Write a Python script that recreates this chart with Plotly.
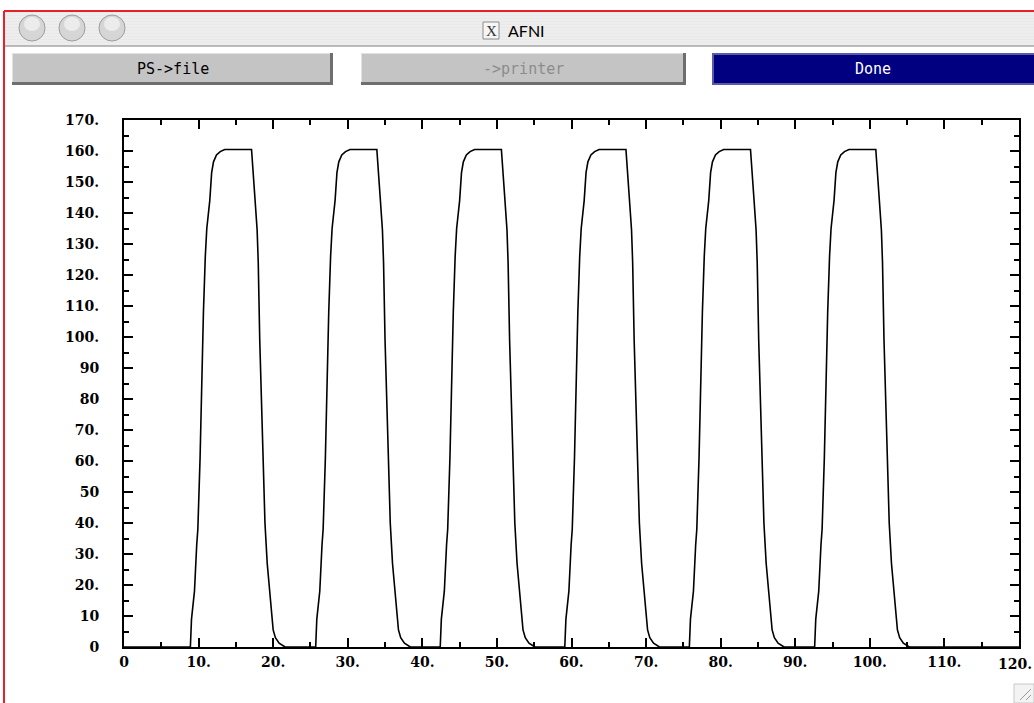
import plotly.graph_objects as go

# ---- data ----
# one response block: offsets from block onset (x units) and values
rise_dx = [0, 0.15, 0.4, 0.55, 0.85, 1.0, 1.3, 1.5, 1.75, 2.0, 2.2, 2.6, 2.85, 3.1, 3.5, 4.0, 4.6]
rise_y = [0, 9, 15, 18, 33, 38, 61, 83, 108, 126, 135, 144, 153, 156.5, 158.7, 159.8, 160.5]
fall_dx = [8.2, 8.35, 8.65, 8.95, 9.1, 9.3, 9.55, 9.8, 10.0, 10.3, 10.65, 10.9, 11.1, 11.4, 11.9, 12.7]
fall_y = [160.5, 156, 145, 134.5, 124, 99, 75, 51, 40, 27, 17, 10, 5.5, 3, 1.2, 0]
block_onsets = [8.9, 25.7, 42.4, 59.1, 75.8, 92.6]
x_start, x_end = 0, 120

x_tickvals = [0, 10, 20, 30, 40, 50, 60, 70, 80, 90, 100, 110, 120]
x_ticktext = ["0", "10.", "20.", "30.", "40.", "50.", "60.", "70.", "80.", "90.", "100.", "110.", "120."]
y_tickvals = [0, 10, 20, 30, 40, 50, 60, 70, 80, 90, 100, 110, 120, 130, 140, 150, 160, 170]
y_ticktext = ["0", "10", "20.", "30.", "40.", "50", "60.", "70.", "80", "90", "100.",
              "110.", "120.", "130.", "140.", "150.", "160.", "170."]

window_title = "AFNI"
button_labels = ["PS->file", "->printer", "Done"]

# ---- build series ----
xs = [x_start]
ys = [0]
for on in block_onsets:
    for dx, v in zip(rise_dx, rise_y):
        xs.append(on + dx)
        ys.append(v)
    for dx, v in zip(fall_dx, fall_y):
        xs.append(on + dx)
        ys.append(v)
xs.append(x_end)
ys.append(0)

W, H = 1034, 703
L, R, T, B = 124, 1019, 120, 647


def px(x):
    return (x - L) / (R - L)


def py(y):
    return (B - y) / (B - T)


fig = go.Figure()
fig.add_trace(go.Scatter(x=xs, y=ys, mode="lines",
                         line=dict(color="black", width=1.6), hoverinfo="skip",
                         showlegend=False, cliponaxis=False))

tickfont = dict(family="DejaVu Serif", size=14, color="black", weight="bold")

# last x label sits against the window edge: draw it right-aligned as an annotation
shown_x_text = x_ticktext[:-1] + [""]

fig.update_xaxes(range=[0, 120], showgrid=False, zeroline=False,
                 showline=True, linecolor="black", linewidth=2, mirror="allticks",
                 ticks="inside", ticklen=9, tickwidth=2, tickcolor="black",
                 tickvals=x_tickvals, ticktext=shown_x_text, tickfont=tickfont,
                 ticklabelstandoff=1, ticklabeloverflow="allow",
                 minor=dict(ticks="inside", ticklen=5, tickwidth=2, tickcolor="black", dtick=5))
fig.update_yaxes(range=[0, 170], showgrid=False, zeroline=False,
                 showline=True, linecolor="black", linewidth=2, mirror="allticks",
                 ticks="inside", ticklen=9, tickwidth=2, tickcolor="black",
                 tickvals=y_tickvals, ticktext=y_ticktext, tickfont=tickfont,
                 ticklabelstandoff=20, ticklabeloverflow="allow",
                 minor=dict(ticks="inside", ticklen=5, tickwidth=2, tickcolor="black", dtick=5))

shapes = []
annotations = []


def rect(x0, y0, x1, y1, fill, line=None, lw=0):
    shapes.append(dict(type="rect", xref="paper", yref="paper",
                       x0=px(x0), x1=px(x1), y0=py(y1), y1=py(y0),
                       fillcolor=fill, line=dict(color=line or fill, width=lw),
                       layer="above"))


def seg(x0, y0, x1, y1, color, w):
    shapes.append(dict(type="line", xref="paper", yref="paper",
                       x0=px(x0), x1=px(x1), y0=py(y0), y1=py(y1),
                       line=dict(color=color, width=w), layer="above"))


def text(x, y, s, size, color, family, xanchor="center", weight="normal"):
    annotations.append(dict(x=px(x), y=py(y), xref="paper", yref="paper", text=s,
                            showarrow=False, xanchor=xanchor, yanchor="middle",
                            font=dict(size=size, color=color, family=family, weight=weight)))


# last x tick label, anchored at the tick value on the x axis
annotations.append(dict(x=x_tickvals[-1], y=0, xref="x", yref="paper", text=x_ticktext[-1],
                        showarrow=False, xanchor="right", yanchor="top", xshift=15, yshift=-7,
                        font=tickfont))

# title bar
rect(5, 12, W, 46, "#e9e9e9")
for yy in range(14, 46, 3):
    seg(5, yy, W, yy, "#f2f2f2", 1)
seg(5, 46, W, 46, "#a6a6a6", 1.5)
for cx in (32, 72, 112):
    shapes.append(dict(type="circle", xref="paper", yref="paper",
                       x0=px(cx - 13), x1=px(cx + 13), y0=py(28 + 13), y1=py(28 - 13),
                       fillcolor="#d6d6d6", line=dict(color="#9c9c9c", width=1), layer="above"))
    shapes.append(dict(type="circle", xref="paper", yref="paper",
                       x0=px(cx - 8), x1=px(cx + 8), y0=py(25 + 6), y1=py(25 - 8),
                       fillcolor="#ececec", line=dict(color="#ececec", width=0), layer="above"))
# X icon + title
rect(483, 22, 499, 39, "#f6f6f6", "#8c8c8c", 1)
text(491, 31, "X", 15, "#333333", "Liberation Serif")
text(506, 31, window_title, 16, "black", "Lato", xanchor="left")

# red screenshot border
seg(4, 11, W, 11, "#e8202a", 2)
seg(4, 11, 4, H, "#e8202a", 2)

# buttons
btns = [(12, 333, "#c4c4c4", "black"), (361, 686, "#c4c4c4", "#8c8c8c"), (712, W + 2, "#000080", "white")]
for (x0, x1, fill, tc), lab in zip(btns, button_labels):
    if fill == "#000080":
        rect(x0, 53, x1, 85, "#5a5aa8")
        rect(x0 + 2, 55, x1, 83, fill)
    else:
        rect(x0, 53, x1, 85, "#6e6e6e")
        rect(x0, 53, x1 - 3, 82, "#e2e2e2")
        rect(x0 + 1, 54, x1 - 3, 82, fill)
    text((x0 + min(x1, W)) / 2, 69, lab, 15, tc, "DejaVu Sans Mono")

# resize grip
rect(1014, 684, W, H, "#f3f3f3", "#c8c8c8", 1)
seg(1020, 700, 1031, 689, "#9a9a9a", 1)
seg(1026, 700, 1031, 695, "#9a9a9a", 1)

fig.update_layout(width=W, height=H,
                  margin=dict(l=L, r=W - R, t=T, b=H - B, autoexpand=False),
                  paper_bgcolor="white", plot_bgcolor="white",
                  shapes=shapes, annotations=annotations, showlegend=False)

fig.write_html("out.html", config={"displayModeBar": False},
               post_script="document.body.style.margin='0px';document.body.style.overflow='hidden';")
